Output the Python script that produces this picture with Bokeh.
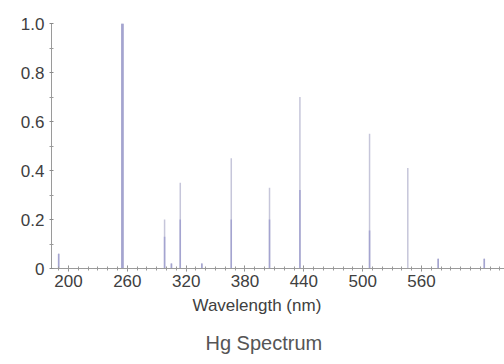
from bokeh.plotting import figure
from bokeh.models import FixedTicker, Range1d, Title
from bokeh.embed import file_html
from bokeh.resources import INLINE

# Data
wavelengths = [190, 255, 298, 305, 314, 336, 366, 405, 436, 507, 546, 577, 624]
intensity = [0.06, 1.00, 0.20, 0.02, 0.35, 0.02, 0.45, 0.33, 0.70, 0.55, 0.41, 0.04, 0.04]
lower_part = [0.06, 1.00, 0.13, 0.02, 0.20, 0.02, 0.20, 0.20, 0.32, 0.155, 0.0, 0.04, 0.04]
x_ticks = [200, 260, 320, 380, 440, 500, 560]
y_ticks = [0, 0.2, 0.4, 0.6, 0.8, 1.0]
y_tick_labels = {0: "0", 0.2: "0.2", 0.4: "0.4", 0.6: "0.6", 0.8: "0.8", 1.0: "1.0"}
x_title = "Wavelength (nm)"
chart_title = "Hg Spectrum"

FONT = "Liberation Sans"

p = figure(width=504, height=364, output_backend="svg", toolbar_location=None,
           x_range=Range1d(182.7, 644.6), y_range=Range1d(0, 1.0),
           min_border_left=51, min_border_right=0, min_border_top=23, min_border_bottom=96)
p.outline_line_color = None
p.grid.visible = False
p.background_fill_color = "white"

# spectral lines: light full-height stroke + darker lower part
widths = [1.5 if w != 255 else 2.5 for w in wavelengths]
p.segment(x0=wavelengths, y0=[0] * len(wavelengths), x1=wavelengths, y1=intensity,
          line_color="#c6c6da", line_width=widths)
p.segment(x0=wavelengths, y0=[0] * len(wavelengths), x1=wavelengths, y1=lower_part,
          line_color="#a4a4d0", line_width=widths)

xa = p.xaxis[0]
xa.ticker = FixedTicker(ticks=x_ticks, minor_ticks=list(range(190, 650, 10)))
xa.axis_line_color = "#9a9a9a"
xa.major_tick_line_color = "#8a8a8a"
xa.minor_tick_line_color = "#9a9a9a"
xa.major_tick_in = 3
xa.major_tick_out = 3
xa.minor_tick_in = 2
xa.minor_tick_out = 2
xa.major_label_standoff = 3
xa.major_label_text_font = FONT
xa.major_label_text_font_size = "17px"
xa.major_label_text_color = "#404040"

ya = p.yaxis[0]
ya.ticker = FixedTicker(ticks=y_ticks, minor_ticks=[0.1, 0.3, 0.5, 0.7, 0.9])
ya.major_label_overrides = y_tick_labels
ya.axis_line_color = "#9a9a9a"
ya.major_tick_line_color = "#8a8a8a"
ya.minor_tick_line_color = "#9a9a9a"
ya.major_tick_in = 2
ya.major_tick_out = 2
ya.minor_tick_in = 2
ya.minor_tick_out = 2
ya.major_label_standoff = 5
ya.major_label_text_font = FONT
ya.major_label_text_font_size = "17px"
ya.major_label_text_color = "#404040"

p.add_layout(Title(text=x_title, align="left", offset=141, text_font=FONT,
                   text_font_size="17px", text_font_style="normal",
                   text_color="#404040", standoff=8), "below")
p.add_layout(Title(text=chart_title, align="left", offset=154, text_font=FONT,
                   text_font_size="20px", text_font_style="normal",
                   text_color="#555555", standoff=22), "below")

open("out.html", "w").write(file_html(p, INLINE))
